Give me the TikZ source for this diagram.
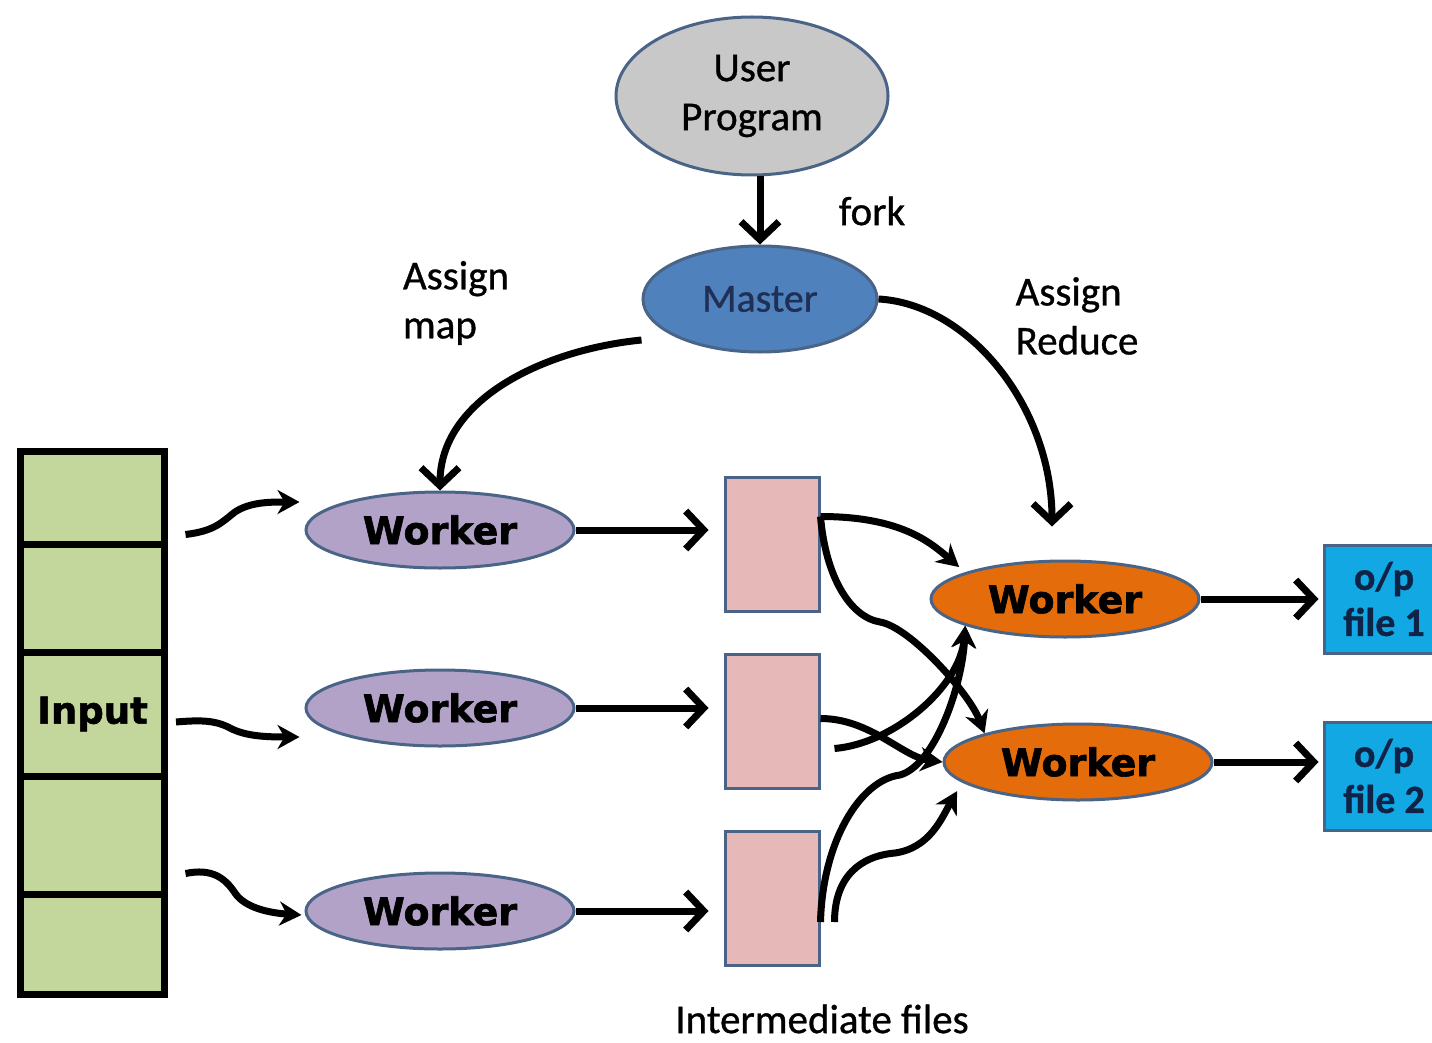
\documentclass[tikz,border=0pt]{standalone}
\usepackage{fontspec}
\setmainfont[FakeBold=0.8]{Carlito}
\newfontfamily\heavyfont[FakeBold=1.6]{DejaVu Sans Bold}
\usetikzlibrary{arrows.meta,shapes.geometric}
\definecolor{edgeblue}{HTML}{4A6488}
\definecolor{upgray}{HTML}{C8C8C8}
\definecolor{masterblue}{HTML}{4F81BD}
\definecolor{masternavy}{HTML}{1F2F55}
\definecolor{mappurple}{HTML}{B3A2C7}
\definecolor{filepink}{HTML}{E6B9B8}
\definecolor{reduceorange}{HTML}{E46C0A}
\definecolor{outblue}{HTML}{12A8E4}
\definecolor{outnavy}{HTML}{0F2346}
\definecolor{inputgreen}{HTML}{C3D69B}

\begin{document}
\begin{tikzpicture}[
		x=1pt, y=-1pt,
		words/.style={font=\fontsize{41}{49}\selectfont, align=left, inner sep=0pt},
		blob/.style={ellipse, draw=edgeblue, line width=3pt, inner sep=0pt},
		worker/.style={blob, minimum width=268pt, minimum height=76pt,
			font=\heavyfont\fontsize{38}{38}\selectfont},
		file/.style={rectangle, draw=edgeblue, line width=3pt, fill=filepink,
			minimum width=94pt, minimum height=134pt},
		outbox/.style={rectangle, draw=edgeblue, line width=3pt, fill=outblue,
			minimum width=120pt, minimum height=108pt, align=center, text=outnavy,
			font=\bfseries\fontsize{40}{46}\selectfont},
		cell/.style={rectangle, draw=black, line width=7pt, fill=inputgreen,
			minimum width=144pt, inner sep=0pt},
		flow/.style={line width=7pt, -{Straight Barb[length=18pt,width=38pt]}},
		wire/.style={line width=7pt, -{Stealth[length=22pt,width=24pt,inset=7pt]}}
	]
		\useasboundingbox (0,0) rectangle (1432,1043);

		\node[blob, fill=upgray, minimum width=272pt, minimum height=158pt,
			font=\fontsize{41}{49}\selectfont, align=center] (up) at (752,96) {User\\Program};
		\node[blob, fill=masterblue, minimum width=234pt, minimum height=106pt,
			text=masternavy, font=\fontsize{40}{40}\selectfont] (master) at (760,299) {Master};
		\node[words] (fork) at (872,211) {fork};
		\node[words] (assignmap) at (456,303) {Assign\\map};
		\node[words] (assignred) at (1077,316) {Assign\\Reduce};

		\node[cell, minimum height=92.5pt] (c1) at (92.5,497.75) {};
		\node[cell, minimum height=108pt] (c2) at (92.5,598) {};
		\node[cell, minimum height=124pt, font=\heavyfont\fontsize{37}{37}\selectfont]
			(c3) at (92.5,714) {\raisebox{-6pt}{Input}};
		\node[cell, minimum height=121pt] (c4) at (92.5,836.5) {};
		\node[cell, minimum height=100pt] (c5) at (92.5,944) {};

		\node[worker, fill=mappurple] (w1) at (440,530) {Worker};
		\node[worker, fill=mappurple] (w2) at (440,708) {Worker};
		\node[worker, fill=mappurple] (w3) at (440,911) {Worker};

		\node[file] (f1) at (772,544) {};
		\node[file] (f2) at (772,721.5) {};
		\node[file] (f3) at (772,898.5) {};
		\node[words] (inter) at (822,1019) {Intermediate files};

		\node[worker, fill=reduceorange] (r1) at (1065,599) {Worker};
		\node[worker, fill=reduceorange] (r2) at (1078,762) {Worker};

		\node[outbox] (o1) at (1384,599) {o/p\\file 1};
		\node[outbox] (o2) at (1384,776) {o/p\\file 2};

		\draw[flow] (up.south -| master) -- (master.north);
		\draw[flow] ([yshift=-41pt]master.west) .. controls +(-100,10) and +(0,-90) .. (w1.north);
		\draw[flow] (master.east) .. controls +(90,5) and +(0,-120) .. ([xshift=-13pt,yshift=33pt]r1.north);

		\draw[wire] ([xshift=17.5pt,yshift=13pt]c1.south east) .. controls (215,531) and (222,522) .. (235,512)
			.. controls (250,502) and (270,502) .. ([xshift=-5pt,yshift=28pt]w1.west);
		\draw[wire] ([xshift=8pt,yshift=-8pt]c3.east) .. controls (200,720) and (215,720) .. (230,728)
			.. controls (245,736) and (265,737) .. ([xshift=-5pt,yshift=-29pt]w2.west);
		\draw[wire] ([xshift=17.5pt,yshift=27pt]c4.south east) .. controls (212,868) and (225,878) .. (235,893)
			.. controls (245,908) and (270,913) .. ([xshift=-3pt,yshift=-4pt]w3.west);

		\draw[flow, shorten >=15pt] (w1.east) -- (w1.east -| f1.west);
		\draw[flow, shorten >=15pt] (w2.east) -- (w2.east -| f2.west);
		\draw[flow, shorten >=15pt] (w3.east) -- (w3.east -| f3.west);

		\draw[flow, shorten >=4pt] (r1.east) -- (r1.east -| o1.west);
		\draw[flow, shorten >=4pt] (r2.east) -- (r2.east -| o2.west);

		\draw[wire, shorten >=8pt] ([yshift=-41pt]f1.north east) .. controls +(80,0) and +(-35,-30) .. (r1.165);
		\draw[wire] ([yshift=-41pt]f1.north east) .. controls +(5,60) and +(-30,-5) .. (880,622)
			.. controls +(30,5) and +(-15,-40) .. (r2.163);
		\draw[wire] ([yshift=3pt]f2.east) .. controls +(50,0) and +(-40,-5) .. (r2.west);
		\draw[wire] ([xshift=14pt,yshift=-27pt]f2.east) .. controls +(60,-5) and +(-5,60) .. (r1.195);
		\draw[wire] ([yshift=45pt]f3.south east) .. controls +(2,-80) and +(-40,5) .. (900,775)
			.. controls +(35,-10) and +(-3,60) .. (r1.195);
		\draw[wire, shorten >=10pt] ([xshift=14pt,yshift=45pt]f3.south east) .. controls +(0,-45) and +(-35,3) .. (895,853)
			.. controls +(35,-5) and +(-20,35) .. (r2.190);
	\end{tikzpicture}
\end{document}
